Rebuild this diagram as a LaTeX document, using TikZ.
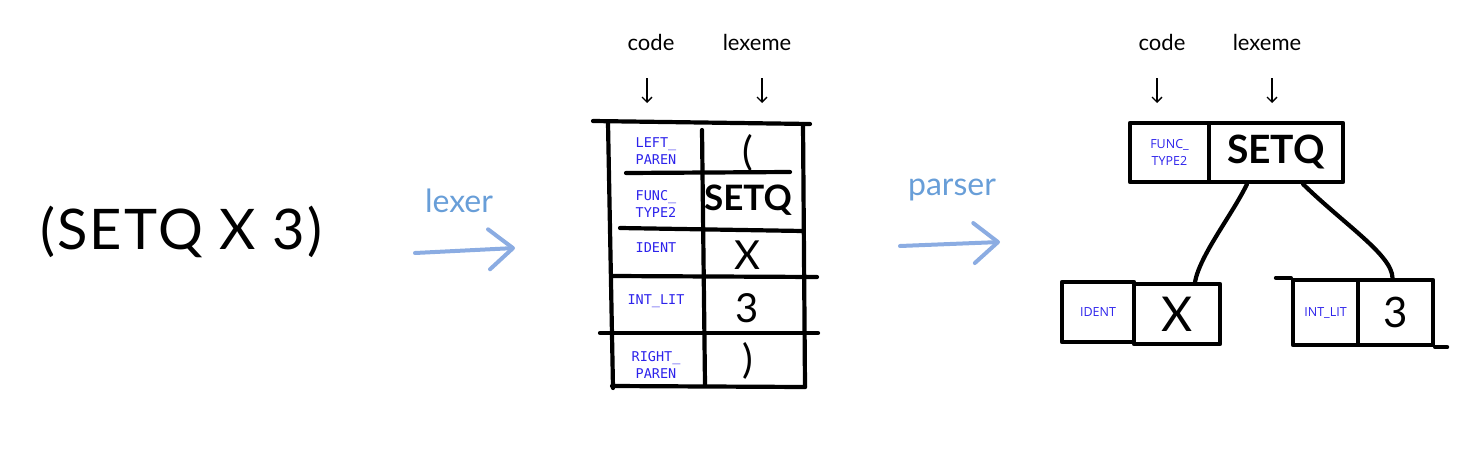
\documentclass[tikz,border=0pt]{standalone}
\usepackage{fontspec}
\setmainfont{Lato}
\setmonofont{DejaVu Sans Mono}
\newfontfamily\tokfont{Open Sans}
\usepackage{xcolor}
\usetikzlibrary{arrows.meta}
\definecolor{tokblue}{RGB}{45,35,235}
\definecolor{flowblue}{RGB}{139,172,226}
\definecolor{flowtext}{RGB}{104,158,216}

\begin{document}
\begin{tikzpicture}[x=1pt,y=-1pt,
	pen/.style={line width=4.2pt, line cap=round, line join=round},
	head/.style={font=\fontsize{22}{24}\selectfont, inner sep=0, anchor=base},
	down/.style={line width=1.3pt, -{Straight Barb[length=5pt,width=10pt]}},
	flow/.style={draw=flowblue, line width=4pt, line cap=round, -{Straight Barb[length=24pt,width=40pt,round]}},
	flowlab/.style={text=flowtext, font=\fontsize{32}{34}\selectfont, inner sep=0, anchor=base},
	tok/.style={text=tokblue, font=\ttfamily\fontsize{13.5}{17}\selectfont, align=center, inner sep=0},
	ttok/.style={text=tokblue, font=\tokfont\fontsize{12.5}{17}\selectfont, align=center},
	lex/.style={font=\fontsize{40}{42}\selectfont, inner sep=0},
	cell/.style={pen, draw, inner sep=0}
]
\useasboundingbox (0,0) rectangle (1472,461);

% source text
\node[font=\fontsize{56}{58}\selectfont\addfontfeatures{LetterSpace=4}] (src) at (181,232) {(SETQ X 3)};

% lexer step
\node[flowlab] (lexlab) at (459,212) {lexer};
\coordinate (lexA) at (415,253);
\coordinate (lexB) at (515,248);
\draw[flow] (lexA) -- (lexB);

% token table
\node[head] (code1) at (651,50) {code};
\node[head] (lexeme1) at (757,50) {lexeme};
\coordinate (c1a) at (647,78);
\coordinate (c1b) at (647,103);
\coordinate (l1a) at (762,78);
\coordinate (l1b) at (762,103);
\draw[down] (c1a) -- (c1b);
\draw[down] (l1a) -- (l1b);

\draw[pen] (593,121) -- (810,124);
\draw[pen] (608,123) -- (613,388);
\draw[pen] (803,124) -- (805,387);
\draw[pen] (702,130) -- (705,385);
\draw[pen] (626,173) -- (790,172);
\draw[pen] (620,228) -- (803,231);
\draw[pen] (612,276) -- (817,277);
\draw[pen] (600,333) -- (818,333);
\draw[pen] (612,386) -- (805,387);

\node[tok] (t1) at (656,151) {LEFT\_\\PAREN};
\node[tok] (t2) at (656,204) {FUNC\_\\TYPE2};
\node[tok] (t3) at (656,248) {IDENT};
\node[tok] (t4) at (656,301) {INT\_LIT};
\node[tok] (t5) at (656,365) {RIGHT\_\\PAREN};

\node[lex] (x1) at (748,153) {(};
\node[lex, font=\bfseries\fontsize{35}{36}\selectfont] (x2) at (748,200) {SETQ};
\node[lex] (x3) at (747,255) {X};
\node[lex] (x4) at (747,308) {3};
\node[lex] (x5) at (748,361) {)};

% parser step
\node[flowlab] (parlab) at (952,195) {parser};
\coordinate (parA) at (900,246);
\coordinate (parB) at (1000,242);
\draw[flow] (parA) -- (parB);

% syntax tree
\node[head] (code2) at (1162,50) {code};
\node[head] (lexeme2) at (1267,50) {lexeme};
\coordinate (c2a) at (1157,78);
\coordinate (c2b) at (1157,103);
\coordinate (l2a) at (1272,78);
\coordinate (l2b) at (1272,103);
\draw[down] (c2a) -- (c2b);
\draw[down] (l2a) -- (l2b);

\node[cell, ttok, minimum width=79pt, minimum height=59pt] (rootcode) at (1169.5,152.5) {FUNC\_\\TYPE2};
\node[cell, minimum width=134pt, minimum height=59pt, font=\bfseries\fontsize{39}{40}\selectfont] (rootlex) at (1276,152.5) {SETQ};

\node[cell, ttok, minimum width=72pt, minimum height=60pt] (identcode) at (1098,312) {IDENT};
\node[cell, minimum width=86pt, minimum height=60pt, font=\fontsize{48}{50}\selectfont] (identlex) at (1177,314) {X};

\node[cell, ttok, minimum width=65pt, minimum height=65pt] (intcode) at (1325.5,312.5) {INT\_LIT};
\node[cell, minimum width=75pt, minimum height=65pt, font=\fontsize{42}{44}\selectfont] (intlex) at (1395.5,312.5) {3};

\draw[pen] (intcode.north west) -- ++(-15,0);
\draw[pen] (intlex.south east) -- ++(12,0);

\draw[pen] ([xshift=-29pt]rootlex.south) .. controls (1232,215) and (1200,255) .. ([xshift=18pt]identlex.north);
\draw[pen] ([xshift=27pt]rootlex.south) .. controls (1345,225) and (1392,255) .. ([xshift=-3pt]intlex.north);
\end{tikzpicture}
\end{document}
